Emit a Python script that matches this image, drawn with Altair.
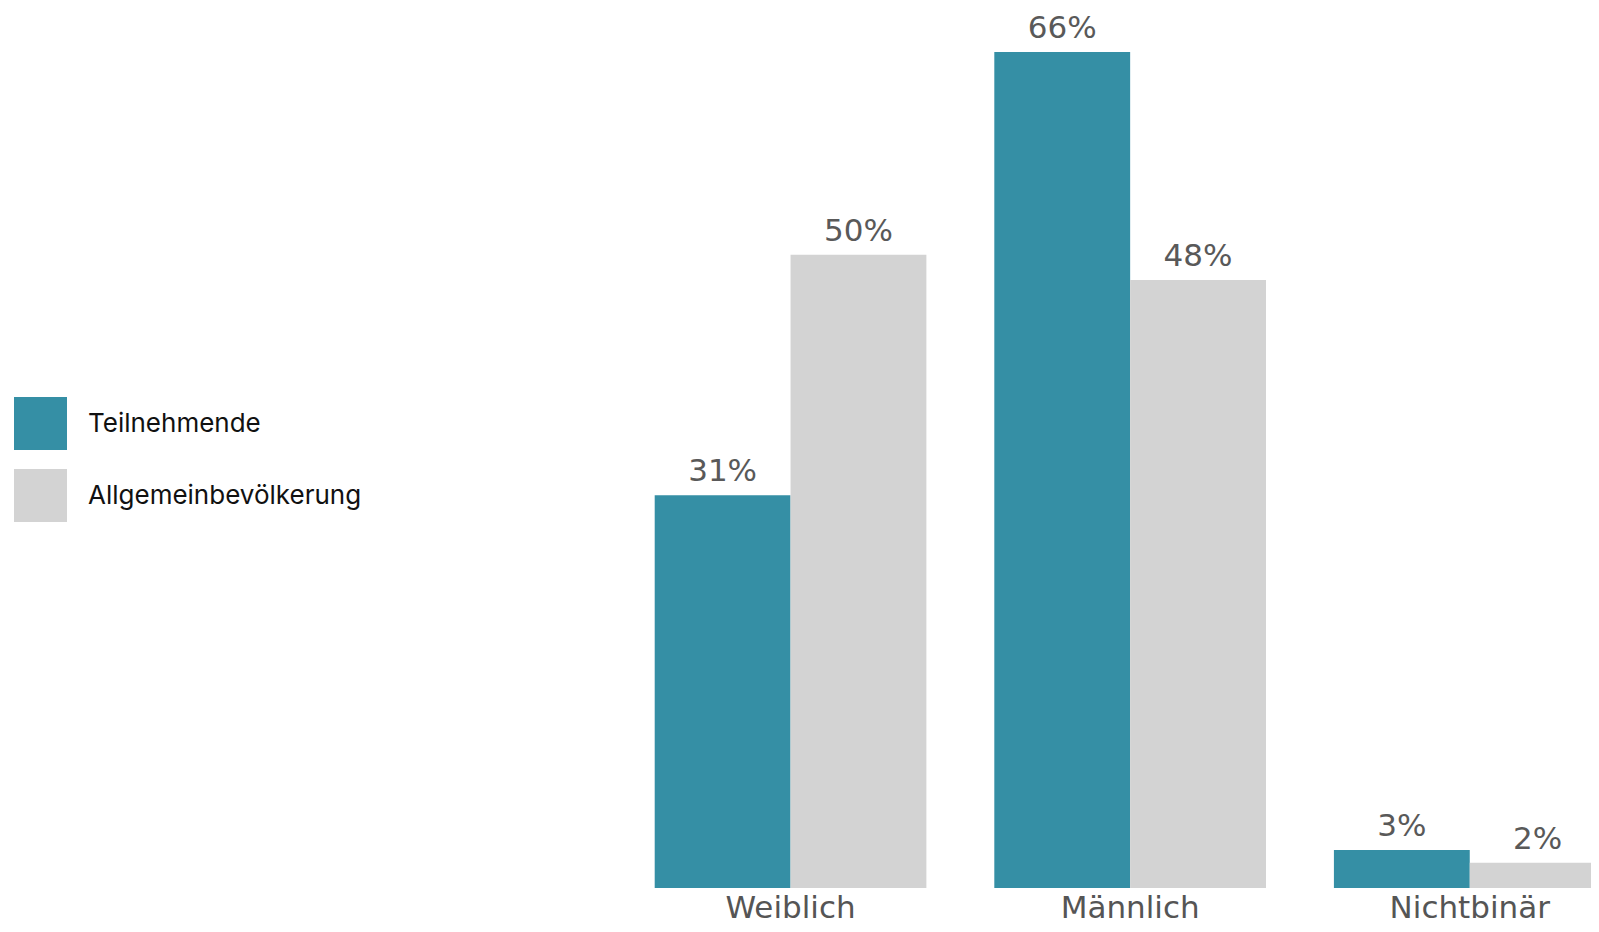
import altair as alt
import pandas as pd

categories = ["Weiblich", "Männlich", "Nichtbinär"]
series_names = ["Teilnehmende", "Allgemeinbevölkerung"]
teilnehmende = [31, 66, 3]
allgemeinbevoelkerung = [50, 48, 2]
series_colors = ["#358fa5", "#d3d3d3"]

rows = []
for c, a, b in zip(categories, teilnehmende, allgemeinbevoelkerung):
    rows.append({"kategorie": c, "gruppe": series_names[0], "wert": a})
    rows.append({"kategorie": c, "gruppe": series_names[1], "wert": b})
df = pd.DataFrame(rows)
df["label"] = df["wert"].astype(str) + "%"

PAD_LEFT = 600
W = 983
H = 880

x_enc = alt.X(
    "kategorie:N",
    sort=categories,
    scale=alt.Scale(range=[46.7, 997.6], paddingInner=0.2, paddingOuter=0),
    axis=alt.Axis(
        title=None, domain=False, ticks=False, labelAngle=0,
        labelFont="DejaVu Sans", labelFontSize=31, labelColor="#555555",
        labelPadding=5,
    ),
)
xoff = alt.XOffset("gruppe:N", sort=series_names,
                   scale=alt.Scale(paddingInner=0, paddingOuter=0))
y_enc = alt.Y("wert:Q", scale=alt.Scale(domain=[0, 69.47], nice=False, zero=True), axis=None)

bars = alt.Chart(df).mark_bar(clip=True).encode(
    x=x_enc,
    xOffset=xoff,
    y=y_enc,
    color=alt.Color(
        "gruppe:N",
        sort=series_names,
        scale=alt.Scale(domain=series_names, range=series_colors),
        legend=alt.Legend(
            title=None, orient="none", legendX=-594, legendY=389,
            symbolType="square", symbolSize=2809, symbolStrokeWidth=0,
            symbolOpacity=1, labelFont="Inter", labelFontSize=26,
            labelColor="#111111", labelOffset=21, rowPadding=19, padding=0,
            labelLimit=500,
        ),
    ),
)

text = alt.Chart(df).mark_text(
    baseline="alphabetic", dy=-14, font="DejaVu Sans", fontSize=31, color="#595959"
).encode(
    x=x_enc,
    xOffset=xoff,
    y=y_enc,
    text="label:N",
)

chart = alt.layer(bars, text).properties(
    width=W,
    height=H,
    padding={"left": PAD_LEFT, "top": 0, "right": 0, "bottom": 38},
    autosize=alt.AutoSizeParams(type="none"),
    background="white",
).configure_view(stroke=None)

chart.save("out.html", embed_options={"renderer": "svg", "actions": False})
